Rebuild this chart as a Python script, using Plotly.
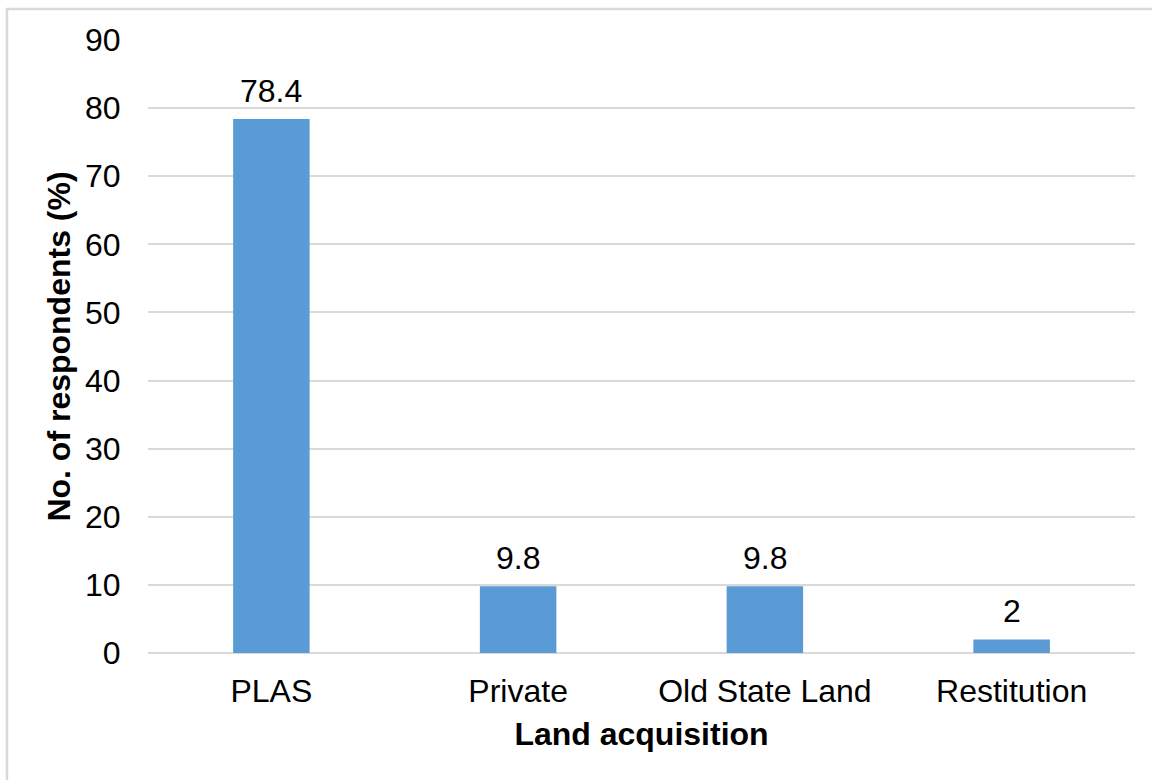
import plotly.graph_objects as go

categories = ["PLAS", "Private", "Old State Land", "Restitution"]
values = [78.4, 9.8, 9.8, 2]
labels = ["78.4", "9.8", "9.8", "2"]
y_ticks = [0, 10, 20, 30, 40, 50, 60, 70, 80, 90]

FONT = "Liberation Sans, Arial, sans-serif"

fig = go.Figure(go.Bar(
    x=categories, y=values,
    marker=dict(color="#5B9BD5", line=dict(width=0)),
))

for c, v, t in zip(categories, values, labels):
    fig.add_annotation(x=c, y=v, text=t, showarrow=False, yanchor="bottom",
                       yshift=8, font=dict(size=32, color="#000000", family=FONT))

fig.update_layout(
    width=1152, height=780,
    margin=dict(l=148, r=17, t=40, b=127),
    paper_bgcolor="white", plot_bgcolor="white",
    bargap=0.69,
    showlegend=False,
    font=dict(family=FONT, color="#000000", size=32),
    xaxis=dict(
        title=dict(text="<b>Land acquisition</b>", font=dict(size=32), standoff=14),
        tickfont=dict(size=32), showgrid=False, showline=False,
        ticks="outside", ticklen=10, tickcolor="rgba(0,0,0,0)",
    ),
    yaxis=dict(
        title=dict(text="<b>No. of respondents (%)</b>", font=dict(size=32), standoff=4),
        range=[0, 90], tickvals=y_ticks, tickfont=dict(size=32),
        showgrid=True, gridcolor="#D9D9D9", gridwidth=1.8,
        zeroline=True, zerolinecolor="#D9D9D9", zerolinewidth=1.8,
        showline=False, ticks="outside", ticklen=20, tickcolor="rgba(0,0,0,0)",
    ),
    shapes=[dict(
        type="rect", xref="paper", yref="paper",
        x0=-0.1429, x1=1.05, y0=-0.25, y1=1.0506,
        line=dict(color="#D9D9D9", width=2.5), fillcolor="rgba(0,0,0,0)",
        layer="below",
    )],
)

fig.write_html("out.html")
